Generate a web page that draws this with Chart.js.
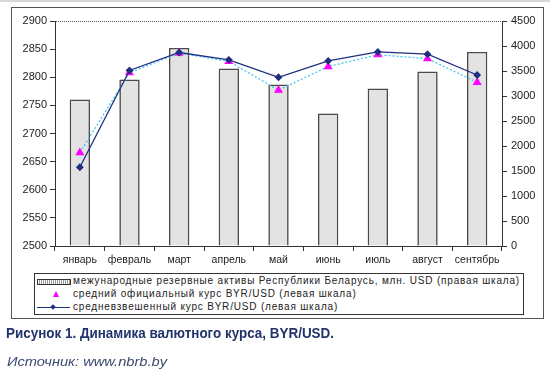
<!DOCTYPE html>
<html>
<head>
<meta charset="utf-8">
<script src="https://cdn.jsdelivr.net/npm/chart.js@4/dist/chart.umd.min.js"></script>
<style>
  body { margin: 0; background: #fff; width: 550px; height: 374px; position: relative; overflow: hidden; font-family: "Liberation Sans", Arial, sans-serif; }
  #topline { position: absolute; left: 0; top: 0; width: 550px; height: 2px; background: #d8d8d8; }
  #frame { position: absolute; left: 11px; top: 7px; width: 531px; height: 310px; border: 1px solid #555; }
  #grafico { position: absolute; left: 0; top: 0; }
  #legenda { position: absolute; left: 34px; top: 273px; width: 488px; height: 40px; border: 1px solid #333; background: #fff; }
  .linha { position: absolute; left: 38px; font-size: 10px; color: #222; white-space: nowrap; }
  .marca { position: absolute; }
  #titulo { position: absolute; left: 6px; top: 324px; font-family: "Liberation Sans Narrow", "Liberation Sans", Arial, sans-serif; font-weight: bold; font-size: 15px; color: #22336b; white-space: nowrap; transform-origin: 0 0; }
  #fonte { position: absolute; left: 7px; top: 354px; font-style: italic; font-size: 13px; color: #3a4a6e; white-space: nowrap; transform-origin: 0 0; }
</style>
</head>
<body>
<div id="topline"></div>
<div id="frame"></div>
<canvas id="grafico" width="550" height="374"></canvas>
<div id="legenda">
  <div class="marca" style="left:2px; top:5px; width:32px; height:4px; border:1px solid #333; background: repeating-linear-gradient(90deg, #fff 0 1px, #999 1px 2px);"></div>
  <div class="linha" id="l1" style="top:1px;"></div>
  <div class="marca" style="left:18px; top:17px; width:0; height:0; border-left:3px solid transparent; border-right:3px solid transparent; border-bottom:6px solid #ff00ff;"></div>
  <div class="linha" id="l2" style="top:14px;"></div>
  <div class="marca" style="left:2px; top:33px; width:33px; height:1px; background:#1f2f80;"></div>
  <div class="marca" style="left:16px; top:31px; width:4px; height:4px; background:#1f2f80; transform: rotate(45deg);"></div>
  <div class="linha" id="l3" style="top:27px;"></div>
</div>
<div id="titulo">Рисунок 1. Динамика валютного курса, BYR/USD.</div>
<div id="fonte">Источник: www.nbrb.by</div>
<script>
const meses = ['январь', 'февраль', 'март', 'апрель', 'май', 'июнь', 'июль', 'август', 'сентябрь'];
// резервные активы, млн. USD (правая шкала)
const reservas = [2930, 3330, 3960, 3550, 3230, 2650, 3150, 3490, 3880];
// средний официальный курс BYR/USD (левая шкала)
const cursoOficial = [2666, 2808, 2843, 2828, 2777, 2819, 2840, 2833, 2791];
// средневзвешенный курс BYR/USD (левая шкала)
const cursoPonderado = [2640, 2812, 2844, 2831, 2800, 2829, 2845, 2841, 2804];

const rotulos = [
    'межународные резервные активы Республики Беларусь, млн. USD (правая шкала)',
    'средний официальный курс BYR/USD (левая шкала)',
    'средневзвешенный  курс BYR/USD (левая шкала)'
];

// legenda em HTML, espaçamento ajustado para a largura do original
['l1', 'l2', 'l3'].forEach((id, i) => { document.getElementById(id).textContent = rotulos[i]; });
let l1 = document.getElementById('l1');
let natural = l1.getBoundingClientRect().width;
let espaco = (447 - natural) / rotulos[0].length;
document.querySelectorAll('.linha').forEach(el => { el.style.letterSpacing = espaco + 'px'; });

function ajustar(id, largura) {
    let el = document.getElementById(id);
    let w = el.getBoundingClientRect().width;
    el.style.transform = 'scaleX(' + (largura / w) + ')';
}
ajustar('titulo', 328);
ajustar('fonte', 160);

const fonteEixo = { family: '"Liberation Sans", Arial, sans-serif', size: 11 };
const semVirgula = function(value) { return String(value); };

let ctx = document.getElementById('grafico').getContext('2d');
window.grafico = new Chart(ctx, {
    data: {
        labels: meses,
        datasets: [
            {
                type: 'line', label: 'ponderado', data: cursoPonderado, yAxisID: 'y',
                borderColor: '#1f2f80', backgroundColor: '#1f2f80', borderWidth: 1.3,
                pointStyle: 'rectRot', pointRadius: 3, tension: 0, order: 1
            },
            {
                type: 'line', label: 'oficial', data: cursoOficial, yAxisID: 'y',
                borderColor: '#35c4f4', backgroundColor: '#ff00ff', borderWidth: 1.2, borderDash: [2, 2],
                pointStyle: 'triangle', pointRadius: 4, pointBorderColor: '#ff00ff', tension: 0, order: 2
            },
            {
                type: 'bar', label: 'reservas', data: reservas, yAxisID: 'y1',
                backgroundColor: '#e3e3e3', borderColor: '#4e4848', borderWidth: 1.6,
                categoryPercentage: 1, barPercentage: 0.41, order: 3
            }
        ]
    },
    options: {
        responsive: false,
        animation: false,
        layout: { padding: { left: 0, right: 0, top: 21, bottom: 108 } },
        plugins: { legend: { display: false }, tooltip: { enabled: false } },
        scales: {
            x: {
                offset: true,
                grid: { offset: true, drawOnChartArea: false, tickLength: 5, color: '#333' },
                border: { color: '#333', width: 1 },
                ticks: { color: '#222', font: { family: '"Liberation Sans", Arial, sans-serif', size: 10.5 }, padding: 3, maxRotation: 0, autoSkip: false },
                afterFit: function(scale) { scale.height = 20; }
            },
            y: {
                position: 'left', min: 2500, max: 2900,
                ticks: { stepSize: 50, color: '#222', font: fonteEixo, padding: 3, callback: semVirgula },
                grid: {
                    drawOnChartArea: true, tickLength: 5, tickColor: '#333', tickBorderDash: [],
                    color: function(c) { return c.tick && c.tick.value === 2900 ? '#555' : 'rgba(0,0,0,0)'; }
                },
                border: { color: '#333', width: 1, dash: [1, 1] },
                afterFit: function(scale) { scale.width = 55; }
            },
            y1: {
                position: 'right', min: 0, max: 4500,
                ticks: { stepSize: 500, color: '#222', font: fonteEixo, padding: 4, callback: semVirgula },
                grid: { drawOnChartArea: false, tickLength: 5, color: '#333' },
                border: { color: '#333', width: 1 },
                afterFit: function(scale) { scale.width = 48; }
            }
        }
    }
});
</script>
</body>
</html>
